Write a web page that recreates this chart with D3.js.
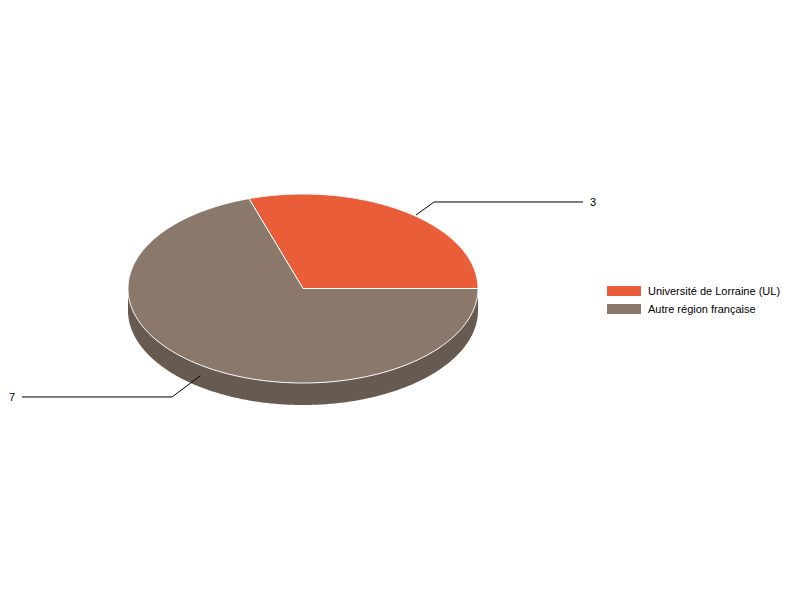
<!DOCTYPE html>
<html>
<head>
<meta charset="utf-8">
<script src="https://cdn.jsdelivr.net/npm/d3@7"></script>
<style>
  body { margin: 0; background: #fff; }
  svg { font-family: "Liberation Sans", Arial, sans-serif; }
</style>
</head>
<body>
<svg width="800" height="600"></svg>
<script>
const categories = ["Université de Lorraine (UL)", "Autre région française"];
const values = [3, 7];
const colors = ["#E95D38", "#8A786B"];
const sideColors = ["#B8492B", "#675A50"];

const svg = d3.select("svg");

// ellipse geometry of the tilted pie
const cx = 303, cy = 288.5, rx = 175, ry = 94.5, depth = 22;

const pie = d3.pie().sort(null).startAngle(-Math.PI / 10).endAngle(2 * Math.PI - Math.PI / 10);
const arcs = pie(values);

// d3 angle (clockwise from 12 o'clock) -> point on ellipse
function pt(a, k = 1, dy = 0) {
  return [cx + rx * k * Math.sin(a), cy - ry * k * Math.cos(a) + dy];
}
function samples(a0, a1) {
  const n = Math.max(2, Math.ceil(Math.abs(a1 - a0) / 0.01));
  return d3.range(n + 1).map(i => a0 + (a1 - a0) * i / n);
}
const line = d3.line();

// side walls (only the front half is visible)
arcs.forEach((d, i) => {
  const s = Math.max(d.startAngle, Math.PI / 2);
  const e = Math.min(d.endAngle, 3 * Math.PI / 2);
  if (e <= s) return;
  const top = samples(s, e).map(a => pt(a));
  const bottom = samples(e, s).map(a => pt(a, 1, depth));
  svg.append("path")
    .attr("d", line(top.concat(bottom)) + "Z")
    .attr("fill", sideColors[i]);
});

// top faces
arcs.forEach((d, i) => {
  const p = [[cx, cy]].concat(samples(d.startAngle, d.endAngle).map(a => pt(a)));
  svg.append("path")
    .attr("d", line(p) + "Z")
    .attr("fill", colors[i])
    .attr("stroke", "#fff")
    .attr("stroke-width", 1)
    .attr("stroke-linejoin", "round");
});

// leader lines and value labels
arcs.forEach((d, i) => {
  const mid = (d.startAngle + d.endAngle) / 2;
  const front = Math.cos(mid) < 0;
  const off = front ? depth / 2 : 0;
  const right = Math.sin(mid) > 0;
  const p0 = right ? [cx + rx * 0.646, cy - ry * 0.778] : pt(mid, 1, off);
  const p1 = right ? [p0[0] + 18, p0[1] - 13] : [p0[0] - 28, p0[1] + 21];
  const xEnd = right ? 583 : 22;
  svg.append("path")
    .attr("d", line([p0, p1, [xEnd, p1[1]]]))
    .attr("fill", "none")
    .attr("stroke", "#000")
    .attr("stroke-width", 1);
  svg.append("text")
    .attr("x", right ? xEnd + 7 : xEnd - 7)
    .attr("y", p1[1])
    .attr("dy", "0.35em")
    .attr("text-anchor", right ? "start" : "end")
    .attr("font-size", 11)
    .attr("fill", "#000")
    .text(values[i]);
});

// legend
const legend = svg.append("g").attr("transform", "translate(607,286)");
const items = legend.selectAll("g").data(categories).enter().append("g")
  .attr("transform", (d, i) => `translate(0,${i * 18})`);
items.append("rect")
  .attr("width", 34).attr("height", 10)
  .attr("fill", (d, i) => colors[i]);
items.append("text")
  .attr("x", 41).attr("y", 5).attr("dy", "0.35em")
  .attr("font-size", 11).attr("fill", "#000")
  .text(d => d);
</script>
</body>
</html>
